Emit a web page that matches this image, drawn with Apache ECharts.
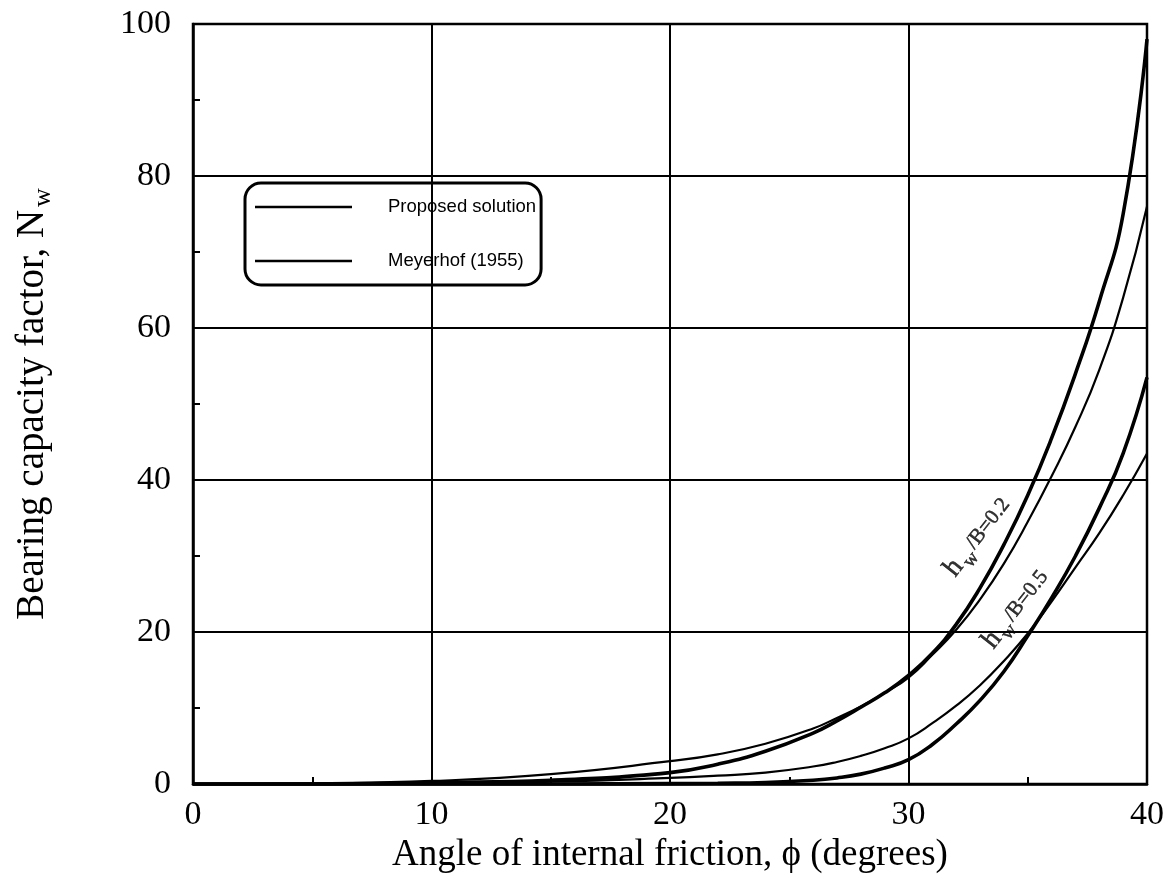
<!DOCTYPE html>
<html>
<head>
<meta charset="utf-8">
<script src="https://cdn.jsdelivr.net/npm/echarts@6/dist/echarts.min.js"></script>
<style>html,body{margin:0;padding:0;background:#fff}#c{width:1170px;height:888px}</style>
</head>
<body>
<div id="c"></div>
<script>
// ---- data ----
const phi = [0,5,10,15,20,22,24,26,27,28,29,30,31,32,33,34,35,36,37,38,39,40];
const proposed02 = [0,0.1,0.4,1.3,3,3.9,5.3,7.3,8.7,10.2,12,14,17,20.3,24.3,29,34.5,40.5,47,54.5,64,76];
const meyerhof02 = [0,0,0.2,0.5,1.5,2.6,4.3,6.7,8.3,10.1,12,14.3,17.2,21,25.8,31.5,38,45.5,54,63.5,75,98];
const proposed05 = [0,0,0.05,0.3,0.8,1.1,1.5,2.3,2.9,3.7,4.7,6,8,10.3,13,16.2,19.8,24,28.5,33,38,43.5];
const meyerhof05 = [0,0,0,0,0.05,0.1,0.2,0.5,0.8,1.3,2.1,3.2,5.2,7.9,11,14.8,19.5,24.5,30,36.3,43.5,53.5];
const xTicks = [0,10,20,30,40];
const yTicks = [0,20,40,60,80,100];
const curveLabels = [
  {pos:[32.9,32.5], ratio:'0.2'},
  {pos:[34.5,23.0], ratio:'0.5'}
];
const legendNames = ['Proposed solution','Meyerhof (1955)'];

const pairs = (ys) => phi.map((x,i)=>[x, ys[i]]);
const serif = '"Liberation Serif","Times New Roman",serif';
const sans = '"Liberation Sans",Arial,sans-serif';

function curve(name, ys, w){
  return {type:'line', name:name, data:pairs(ys), smooth:0.5,
    symbol:'none', showSymbol:false, silent:true,
    lineStyle:{color:'#000', width:w}, itemStyle:{color:'#000'}};
}

const chart = echarts.init(document.getElementById('c'), null, {renderer:'canvas'});
chart.setOption({
  animation:false,
  backgroundColor:'#fff',
  grid:{left:193, right:23, top:24, bottom:104, show:true, borderColor:'#000', borderWidth:2.5, backgroundColor:'transparent'},
  legend:{
    data:legendNames.map(n=>({name:n, icon:'rect'})), orient:'vertical', left:245, top:183,
    borderColor:'#000', borderWidth:3, borderRadius:16,
    padding:[14,5,14,10], itemGap:34, itemWidth:97, itemHeight:2.6,
    itemStyle:{color:'#000', borderWidth:0},
    textStyle:{fontFamily:sans, fontSize:18.5, color:'#000', padding:[0,0,0,31], lineHeight:20, height:20},
    selectedMode:false
  },
  xAxis:{
    type:'value', min:0, max:40, interval:10,
    name:'Angle of internal friction, \u03d5 (degrees)', nameLocation:'middle', nameGap:53,
    nameTextStyle:{fontFamily:serif, fontSize:37, color:'#000'},
    axisLine:{show:true, onZero:false, lineStyle:{color:'#000', width:2.5}},
    axisTick:{show:true, inside:true, length:7, lineStyle:{color:'#000', width:2}},
    minorTick:{show:true, splitNumber:2, length:7, lineStyle:{color:'#000', width:2}},
    minorSplitLine:{show:false},
    splitLine:{show:true, lineStyle:{color:'#000', width:2}},
    axisLabel:{fontFamily:serif, fontSize:34, color:'#000', margin:14,
      formatter:(v)=> xTicks.includes(v) ? String(v) : ''}
  },
  yAxis:{
    type:'value', min:0, max:100, interval:20,
    name:'Bearing capacity factor, N{sub|w}', nameLocation:'middle', nameGap:137, nameRotate:90,
    nameTextStyle:{fontFamily:serif, fontSize:39, color:'#000',
      rich:{sub:{fontFamily:serif, fontSize:26, color:'#000', padding:[20,0,0,3]}}},
    axisLine:{show:true, lineStyle:{color:'#000', width:2.5}},
    axisTick:{show:true, inside:true, length:7, lineStyle:{color:'#000', width:2}},
    minorTick:{show:true, splitNumber:2, length:7, lineStyle:{color:'#000', width:2}},
    minorSplitLine:{show:false},
    splitLine:{show:true, lineStyle:{color:'#000', width:2}},
    axisLabel:{fontFamily:serif, fontSize:34, color:'#000', margin:22,
      formatter:(v)=> yTicks.includes(v) ? String(v) : ''}
  },
  series:[
    curve(legendNames[0], proposed02, 2.2),
    curve(legendNames[1], meyerhof02, 3.6),
    curve(legendNames[0], proposed05, 2.2),
    curve(legendNames[1], meyerhof05, 3.6),
    {
      type:'scatter', silent:true, symbolSize:1, itemStyle:{color:'rgba(0,0,0,0)'},
      data:curveLabels.map(c=>({value:c.pos, ratio:c.ratio})),
      label:{show:true, position:'inside', rotate:52, color:'#000',
        textBorderColor:'#000', textBorderWidth:0.5,
        formatter:(p)=> '{h|h}{w|w}{t|/B=' + p.data.ratio + '}',
        rich:{
          h:{fontFamily:serif, fontSize:28, color:'#000', textBorderColor:'#000', textBorderWidth:0.5},
          w:{fontFamily:serif, fontSize:19, color:'#000', padding:[18,3,0,3], textBorderColor:'#000', textBorderWidth:0.5},
          t:{fontFamily:serif, fontSize:21, color:'#000', textBorderColor:'#000', textBorderWidth:0.5}
        }}
    }
  ]
});
</script>
</body>
</html>
